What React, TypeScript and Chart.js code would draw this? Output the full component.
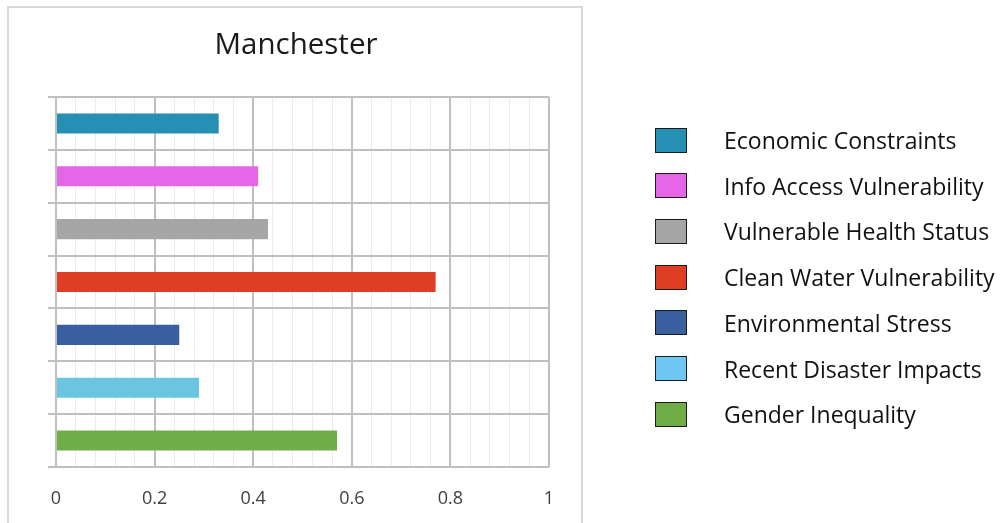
import React, { useEffect, useRef } from "react";
import { Chart, registerables } from "chart.js";

Chart.register(...registerables);

const TITLE = "Manchester";
const categories = [
  "Economic Constraints",
  "Info Access Vulnerability",
  "Vulnerable Health Status",
  "Clean Water Vulnerability",
  "Environmental Stress",
  "Recent Disaster Impacts",
  "Gender Inequality",
];
const values = [0.33, 0.41, 0.43, 0.77, 0.25, 0.29, 0.57];
const barColors = ["#2590B3", "#E566E6", "#A6A6A6", "#E03E24", "#3A5F9F", "#6AC6E0", "#70AD47"];
const legendColors = ["#2590B3", "#E566E6", "#A6A6A6", "#E03E24", "#3A5F9F", "#6EC6F3", "#70AD47"];
const xTickLabels = ["0", "0.2", "0.4", "0.6", "0.8", "1"];
const X_MIN = 0;
const X_MAX = 1;
const MINOR_STEP = 0.04;

const FONT = "'Open Sans', 'Noto Sans', sans-serif";

const decorPlugin = {
  id: "decor",
  beforeDraw(chart: any) {
    const ctx = chart.ctx;
    ctx.save();
    ctx.fillStyle = "#FFFFFF";
    ctx.fillRect(0, 0, chart.width, chart.height);
    ctx.strokeStyle = "#D9D9D9";
    ctx.lineWidth = 2;
    ctx.strokeRect(8, 7, 574, 530);
    ctx.restore();
  },
  afterDraw(chart: any) {
    const ctx = chart.ctx;
    ctx.save();
    // title
    ctx.fillStyle = "#1a1a1a";
    ctx.font = `29.5px ${FONT}`;
    ctx.textAlign = "center";
    ctx.textBaseline = "middle";
    ctx.fillText(TITLE, 296, 46);
    // legend
    const x0 = 655.5;
    const cy0 = 139.5;
    const step = 45.7;
    ctx.font = `23px ${FONT}`;
    ctx.textAlign = "left";
    categories.forEach((label, i) => {
      const cy = cy0 + i * step;
      ctx.fillStyle = legendColors[i];
      ctx.fillRect(x0, Math.round(cy - 12) + 0.5, 31, 24);
      ctx.strokeStyle = "#1a1a1a";
      ctx.lineWidth = 1;
      ctx.strokeRect(x0, Math.round(cy - 12) + 0.5, 31, 24);
      ctx.fillStyle = "#111111";
      ctx.fillText(label, 724, cy + 3);
    });
    ctx.restore();
  },
};

export default function App() {
  const ref = useRef<HTMLCanvasElement | null>(null);
  useEffect(() => {
    if (!ref.current) return;
    const chart = new Chart(ref.current, {
      type: "bar",
      data: {
        labels: categories,
        datasets: [
          {
            data: values,
            backgroundColor: barColors,
            borderWidth: 0,
            barPercentage: 0.38,
            categoryPercentage: 1,
          },
        ],
      },
      options: {
        indexAxis: "y",
        animation: false,
        responsive: false,
        maintainAspectRatio: false,
        layout: { padding: { left: 48, right: 455, top: 97, bottom: 0 } },
        plugins: { legend: { display: false }, tooltip: { enabled: false }, title: { display: false } },
        scales: {
          x: {
            type: "linear",
            min: X_MIN,
            max: X_MAX,
            afterBuildTicks: (scale: any) => {
              const n = Math.round((X_MAX - X_MIN) / MINOR_STEP);
              const t = [];
              for (let i = 0; i <= n; i++) t.push({ value: +(X_MIN + i * MINOR_STEP).toFixed(4) });
              scale.ticks = t;
            },
            afterFit: (scale: any) => {
              scale.height = 56;
            },
            ticks: {
              autoSkip: false,
              maxRotation: 0,
              padding: 21,
              color: "#404040",
              font: { family: FONT, size: 18 },
              callback: (_v: any, i: number) => (i % 5 === 0 ? xTickLabels[i / 5] : ""),
            },
            grid: {
              drawTicks: false,
              color: (c: any) => (c.index % 5 === 0 ? "#BFBFBF" : "#EBEBEB"),
              lineWidth: (c: any) => (c.index % 5 === 0 ? 2 : 1),
            },
            border: { display: false },
          },
          y: {
            type: "category",
            afterFit: (scale: any) => {
              scale.width = 8;
            },
            ticks: { display: false },
            grid: {
              offset: true,
              drawTicks: true,
              tickLength: 8,
              color: "#BFBFBF",
              lineWidth: 2,
            },
            border: { display: true, color: "#BFBFBF", width: 2 },
          },
        },
      },
      plugins: [decorPlugin],
    });
    return () => chart.destroy();
  }, []);
  return (
    <div style={{ position: "fixed", left: 0, top: 0, width: 1004, height: 523, background: "#fff" }}>
      <canvas ref={ref} width={1004} height={523} style={{ display: "block", width: 1004, height: 523 }} />
    </div>
  );
}
